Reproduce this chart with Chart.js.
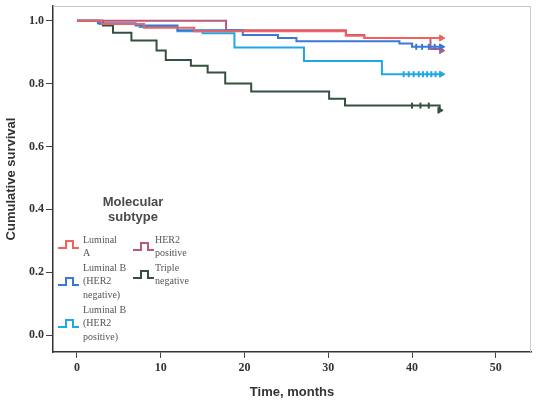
<!DOCTYPE html>
<html lang="en">
<head>
  <meta charset="UTF-8" />
  <title>Cumulative survival by molecular subtype</title>
  <script src="https://cdn.jsdelivr.net/npm/chart.js"></script>
  <style>
    html, body { margin: 0; padding: 0; background: #fff; }
    #wrap { width: 537px; height: 402px; }
  </style>
</head>
<body>
  <div id="wrap"><canvas id="km"></canvas></div>
  <script>
    // step points: time (months) where survival drops, and the new survival value
    const lumATimes = [0, 3, 8, 14, 32.1, 34.3, 43.5];
    const lumASurv  = [1.0, 0.99, 0.978, 0.967, 0.952, 0.945, 0.945];

    const lumBnegTimes = [0, 2.5, 7, 12, 19.8, 24, 26.2, 38.5, 40, 43.5];
    const lumBnegSurv  = [1.0, 0.992, 0.985, 0.97, 0.955, 0.945, 0.935, 0.928, 0.917, 0.917];

    const lumBposTimes = [0, 2.7, 7.5, 12, 15, 18.8, 27.1, 36.4, 43.5];
    const lumBposSurv  = [1.0, 0.99, 0.98, 0.967, 0.96, 0.915, 0.872, 0.83, 0.83];

    const her2Times = [0, 17.8, 32.1, 34.3, 42.2, 43.5];
    const her2Surv  = [1.0, 0.97, 0.955, 0.945, 0.91, 0.905];

    const tripleTimes = [0, 3.1, 4.3, 6.5, 9.5, 10.6, 13.6, 15.6, 17.7, 20.8, 30.1, 32, 43.3];
    const tripleSurv  = [1.0, 0.985, 0.962, 0.937, 0.905, 0.875, 0.857, 0.835, 0.8, 0.775, 0.752, 0.73, 0.715];

    // censored observations near the end of follow-up
    const lumBposCensor = [39, 39.6, 40.2, 40.8, 41.3, 41.8, 42.3, 42.8];
    const lumBnegCensor = [40.5, 41.2, 42, 42.7];
    const tripleCensor  = [40, 41, 42];

    const xTicks = [0, 10, 20, 30, 40, 50];
    const yTicks = [0, 0.2, 0.4, 0.6, 0.8, 1.0];

    const groups = [
      { name: ['Luminal', 'A'], times: lumATimes, surv: lumASurv, censor: [], color: '#f2615c' },
      { name: ['Luminal B', '(HER2', 'negative)'], times: lumBnegTimes, surv: lumBnegSurv, censor: lumBnegCensor, color: '#3b78d8' },
      { name: ['Luminal B', '(HER2', 'positive)'], times: lumBposTimes, surv: lumBposSurv, censor: lumBposCensor, color: '#1ea8e6' },
      { name: ['HER2', 'positive'], times: her2Times, surv: her2Surv, censor: [], color: '#b85a7c' },
      { name: ['Triple', 'negative'], times: tripleTimes, surv: tripleSurv, censor: tripleCensor, color: '#34503f' }
    ];

    function survAt(g, t) {
      let s = g.surv[0];
      for (let i = 0; i < g.times.length; i++) {
        if (g.times[i] <= t) s = g.surv[i];
      }
      return s;
    }

    const datasets = [];
    groups.forEach(g => {
      const pts = g.times.map((t, i) => ({ x: t, y: g.surv[i] }));
      datasets.push({
        data: pts,
        borderColor: g.color,
        backgroundColor: g.color,
        borderWidth: 2,
        stepped: true,
        fill: false,
        pointStyle: 'triangle',
        rotation: 90,
        pointRadius: pts.map((p, i) => i === pts.length - 1 ? 3.5 : 0),
        pointBorderWidth: 1
      });
      if (g.censor.length) {
        datasets.push({
          data: g.censor.map(t => ({ x: t, y: survAt(g, t) })),
          showLine: false,
          pointStyle: 'line',
          rotation: 90,
          pointRadius: 3,
          borderColor: g.color,
          borderWidth: 2
        });
      }
    });

    // light frame round the plot area, and the legend inside it
    const framePlugin = {
      id: 'frame',
      beforeDatasetsDraw(chart) {
        const { ctx, chartArea: a } = chart;
        ctx.save();
        ctx.strokeStyle = '#c8c8c8';
        ctx.lineWidth = 1;
        ctx.beginPath();
        ctx.moveTo(a.left, a.top + 0.5);
        ctx.lineTo(a.right - 0.5, a.top + 0.5);
        ctx.lineTo(a.right - 0.5, a.bottom);
        ctx.stroke();
        ctx.restore();
      },
      afterDraw(chart) {
        const ctx = chart.ctx;
        ctx.save();
        ctx.fillStyle = '#4a4a4a';
        ctx.font = 'bold 13px "Liberation Sans", Arial, sans-serif';
        ctx.textAlign = 'center';
        ctx.textBaseline = 'middle';
        ctx.fillText('Molecular', 133, 202);
        ctx.fillText('subtype', 133, 217);

        const slots = [
          { ix: 58, iy: 245, tx: 83, ty: 240 },
          { ix: 58, iy: 282, tx: 83, ty: 268 },
          { ix: 58, iy: 324, tx: 83, ty: 310 },
          { ix: 133, iy: 247, tx: 155, ty: 240 },
          { ix: 133, iy: 275, tx: 155, ty: 268 }
        ];
        ctx.font = '10px "Liberation Serif", "Times New Roman", serif';
        ctx.textAlign = 'left';
        groups.forEach((g, i) => {
          const s = slots[i];
          ctx.strokeStyle = g.color;
          ctx.lineWidth = 2;
          ctx.beginPath();
          ctx.moveTo(s.ix, s.iy + 3);
          ctx.lineTo(s.ix + 8, s.iy + 3);
          ctx.lineTo(s.ix + 8, s.iy - 4);
          ctx.lineTo(s.ix + 15, s.iy - 4);
          ctx.lineTo(s.ix + 15, s.iy + 3);
          ctx.lineTo(s.ix + 21, s.iy + 3);
          ctx.stroke();
          ctx.fillStyle = '#555';
          g.name.forEach((line, j) => ctx.fillText(line, s.tx, s.ty + j * 13.5));
        });
        ctx.restore();
      }
    };

    new Chart(document.getElementById('km'), {
      type: 'line',
      data: { datasets },
      options: {
        responsive: true,
        maintainAspectRatio: false,
        animation: false,
        layout: { padding: { top: 3, right: 0, left: 0, bottom: 0 } },
        plugins: { legend: { display: false }, tooltip: { enabled: false } },
        scales: {
          x: {
            type: 'linear',
            min: -2.86,
            max: 54.2,
            afterBuildTicks: s => { s.ticks = xTicks.map(v => ({ value: v })); },
            afterFit: s => { s.height = 50; s.paddingLeft = 0; s.paddingRight = 0; },
            border: { color: '#333', width: 1.5 },
            grid: { drawOnChartArea: false, tickLength: 6, color: '#444' },
            ticks: {
              color: '#333',
              padding: 3,
              font: { family: '"Liberation Serif", serif', size: 12, weight: 'bold' },
              callback: v => String(v)
            },
            title: {
              display: true,
              text: 'Time, months',
              color: '#333',
              padding: { top: 2, bottom: 2 },
              font: { family: '"Liberation Sans", Arial, sans-serif', size: 13, weight: 'bold' }
            }
          },
          y: {
            type: 'linear',
            min: -0.054,
            max: 1.047,
            afterBuildTicks: s => { s.ticks = yTicks.map(v => ({ value: v })); },
            afterFit: s => { s.width = 53; s.paddingTop = 0; s.paddingBottom = 0; },
            border: { color: '#333', width: 1.5 },
            grid: { drawOnChartArea: false, tickLength: 7, color: '#444' },
            ticks: {
              color: '#333',
              padding: 2,
              font: { family: '"Liberation Serif", serif', size: 12, weight: 'bold' },
              callback: v => v.toFixed(1)
            },
            title: {
              display: true,
              text: 'Cumulative survival',
              color: '#333',
              padding: { top: 4, bottom: 2 },
              font: { family: '"Liberation Sans", Arial, sans-serif', size: 13, weight: 'bold' }
            }
          }
        }
      },
      plugins: [framePlugin]
    });
  </script>
</body>
</html>
